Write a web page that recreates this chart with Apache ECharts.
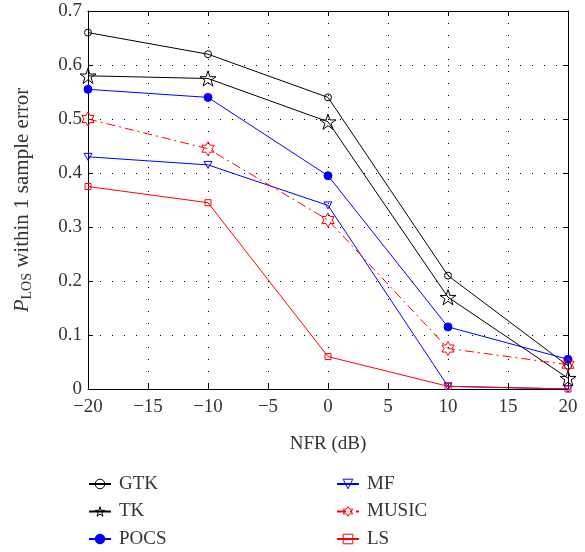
<!DOCTYPE html>
<html>
<head>
<meta charset="utf-8">
<script src="https://cdn.jsdelivr.net/npm/echarts@6/dist/echarts.min.js"></script>
<style>
html,body{margin:0;padding:0;background:#fff;}
#c{width:585px;height:552px;}
</style>
</head>
<body>
<div id="c"></div>
<script>
// ---- data ----
var nfr = [-20, -10, 0, 10, 20];
var gtk = [0.66, 0.62, 0.54, 0.21, 0.043];
var tk = [0.58, 0.575, 0.495, 0.17, 0.02];
var pocs = [0.555, 0.54, 0.395, 0.115, 0.055];
var mf = [0.43, 0.415, 0.34, 0.005, 0.0];
var music = [0.50, 0.445, 0.313, 0.075, 0.045];
var ls = [0.375, 0.345, 0.06, 0.005, 0.0];
var seriesNames = ['GTK', 'TK', 'POCS', 'MF', 'MUSIC', 'LS'];
var xTicks = [-20, -15, -10, -5, 0, 5, 10, 15, 20];
var yTicks = [0, 0.1, 0.2, 0.3, 0.4, 0.5, 0.6, 0.7];

var FONT = 'Liberation Serif';
var TXT = '#333';
var STAR5 = 'path://M50 0 L61.23 34.55 L97.55 34.55 L68.16 55.9 L79.39 90.45 L50 69.1 L20.61 90.45 L31.84 55.9 L2.45 34.55 L38.77 34.55 Z';
var STAR6 = 'path://M50 0 L64.43 25 L93.3 25 L78.87 50 L93.3 75 L64.43 75 L50 100 L35.57 75 L6.7 75 L21.13 50 L6.7 25 L35.57 25 Z';
var TRI_DOWN = 'path://M0 0 L10 0 L5 8.66 Z';

var styles = [
  { color: '#000', symbol: 'circle', size: 7, filled: false },
  { color: '#000', symbol: STAR5, size: 16, filled: false },
  { color: '#0000ff', symbol: 'circle', size: 8, filled: true },
  { color: '#0000ff', symbol: TRI_DOWN, size: 8, filled: false },
  { color: '#ff0000', symbol: STAR6, size: 14, filled: false, dash: [9, 4, 2, 4] },
  { color: '#ff0000', symbol: 'rect', size: 6, filled: false }
];
var values = [gtk, tk, pocs, mf, music, ls];

function pairs(ys) { return nfr.map(function (x, i) { return [x, ys[i]]; }); }
function fillOf(s) { return s.filled ? s.color : 'rgba(0,0,0,0)'; }
function mk(i) {
  var s = styles[i];
  return {
    name: seriesNames[i], type: 'line', data: pairs(values[i]),
    symbol: s.symbol, symbolSize: s.size, symbolKeepAspect: true,
    showSymbol: true, silent: true,
    lineStyle: { color: s.color, width: 1, type: s.dash || 'solid' },
    itemStyle: { color: fillOf(s), borderColor: s.color, borderWidth: 1 },
    emphasis: { disabled: true }
  };
}
function legendItem(i) {
  var s = styles[i];
  return {
    name: seriesNames[i],
    itemStyle: { color: fillOf(s), borderColor: s.color, borderWidth: 1 }
  };
}

var chart = echarts.init(document.getElementById('c'), null, { renderer: 'canvas' });
var gridDots = { show: true, lineStyle: { color: '#000', width: 1, type: [1, 11] } };
var legendText = { fontFamily: FONT, fontSize: 19, color: TXT, padding: [0, 0, 0, 3], lineHeight: 20 };
var series = [];
for (var i = 0; i < seriesNames.length; i++) series.push(mk(i));

chart.setOption({
  animation: false,
  backgroundColor: '#fff',
  textStyle: { fontFamily: FONT },
  grid: { left: 88, right: 17, top: 11, bottom: 163, containLabel: false },
  xAxis: [{
    type: 'value', min: xTicks[0], max: xTicks[xTicks.length - 1], interval: 5,
    name: 'NFR (dB)', nameLocation: 'middle', nameGap: 46,
    nameTextStyle: { fontFamily: FONT, fontSize: 19, color: TXT },
    axisLine: { show: true, onZero: false, lineStyle: { color: '#000', width: 1 } },
    axisTick: { show: true, inside: true, length: 5, lineStyle: { color: '#000' } },
    axisLabel: { fontFamily: FONT, fontSize: 19, color: TXT, margin: 9,
      formatter: function (v) { return v < 0 ? '\u2212' + Math.abs(v) : String(v); } },
    splitLine: gridDots
  }, {
    type: 'value', position: 'top', min: xTicks[0], max: xTicks[xTicks.length - 1], interval: 5,
    axisLine: { show: true, onZero: false, lineStyle: { color: '#000', width: 1 } },
    axisTick: { show: true, inside: true, length: 5, lineStyle: { color: '#000' } },
    axisLabel: { show: false }, splitLine: { show: false }
  }],
  yAxis: [{
    type: 'value', min: yTicks[0], max: yTicks[yTicks.length - 1], interval: 0.1,
    name: '{p|P}{s|LOS}{n| within 1 sample error}', nameLocation: 'middle', nameGap: 54, nameRotate: 90,
    nameTextStyle: {
      fontFamily: FONT, color: TXT,
      rich: {
        p: { fontFamily: FONT, fontSize: 21, fontStyle: 'italic', color: TXT, lineHeight: 24 },
        s: { fontFamily: FONT, fontSize: 14, color: TXT, lineHeight: 13, verticalAlign: 'bottom' },
        n: { fontFamily: FONT, fontSize: 21, color: TXT, lineHeight: 24 }
      }
    },
    axisLine: { show: true, onZero: false, lineStyle: { color: '#000', width: 1 } },
    axisTick: { show: true, inside: true, length: 5, lineStyle: { color: '#000' } },
    axisLabel: { fontFamily: FONT, fontSize: 19, color: TXT, margin: 6 },
    splitLine: gridDots
  }, {
    type: 'value', position: 'right', min: yTicks[0], max: yTicks[yTicks.length - 1], interval: 0.1,
    axisLine: { show: true, onZero: false, lineStyle: { color: '#000', width: 1 } },
    axisTick: { show: true, inside: true, length: 5, lineStyle: { color: '#000' } },
    axisLabel: { show: false }, splitLine: { show: false }
  }],
  legend: [{
    orient: 'vertical', left: 83, top: 469, height: 90, itemWidth: 22, itemHeight: 12, itemGap: 7.5,
    data: [0, 1, 2].map(legendItem), textStyle: legendText, selectedMode: false
  }, {
    orient: 'vertical', left: 331, top: 469, height: 90, itemWidth: 22, itemHeight: 12, itemGap: 7.5,
    data: [3, 4, 5].map(legendItem), textStyle: legendText, selectedMode: false
  }],
  series: series
});
</script>
</body>
</html>
